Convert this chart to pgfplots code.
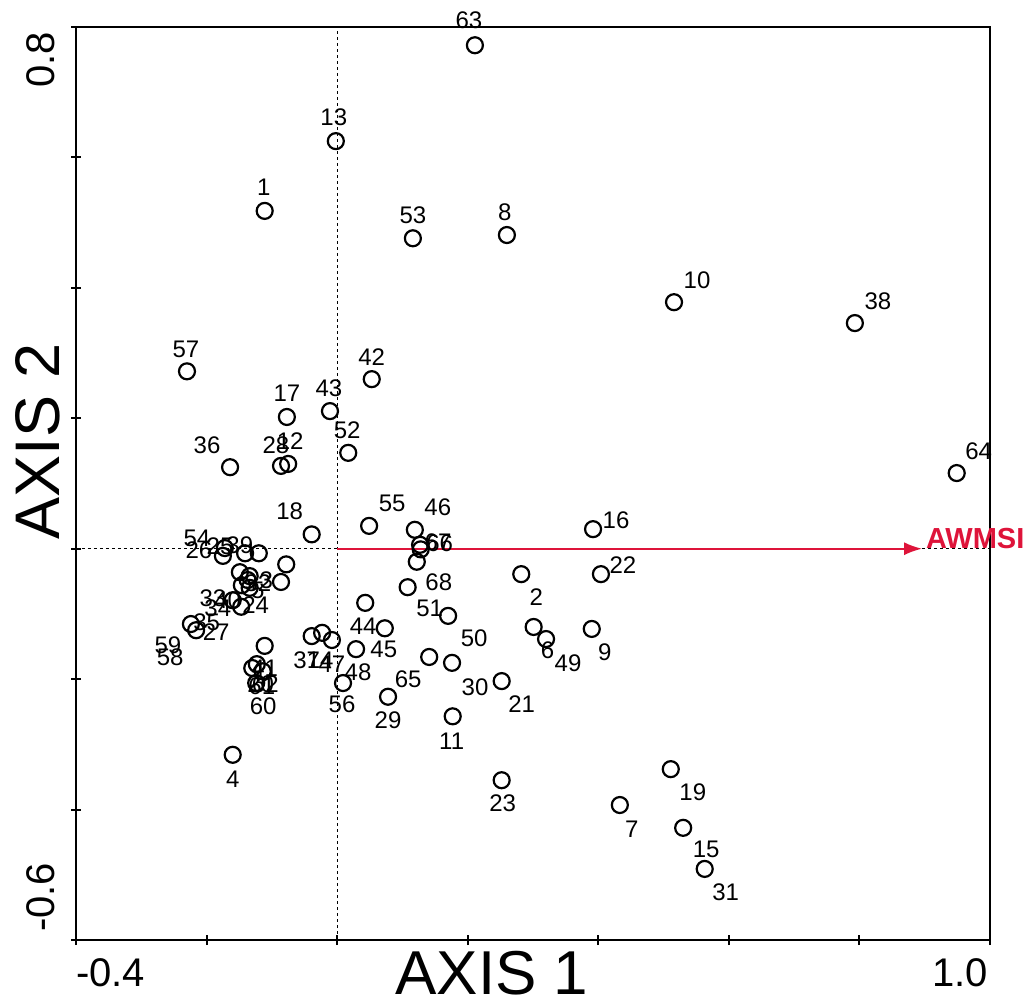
\documentclass[border=0pt]{standalone}
\usepackage{pgfplots}
\pgfplotsset{compat=1.18}
\usepackage{pgfplotstable}
\usetikzlibrary{arrows.meta}
\usepackage{fontspec}
\setmainfont{Liberation Sans}
\definecolor{arrowred}{RGB}{222,20,58}

\pgfplotstableread{
x y dx dy lbl
0.211 0.772 -6 25 63
-0.002 0.625 -2 24 13
-0.111 0.518 -1 24 1
0.116 0.476 0 23 53
0.260 0.481 -2 23 8
0.516 0.378 23 22 10
0.793 0.346 23 22 38
-0.230 0.272 -1 22 57
0.053 0.260 0 22 42
-0.077 0.202 0 24 17
-0.011 0.211 -1 23 43
0.017 0.147 -1 23 52
-0.075 0.130 2 23 12
-0.086 0.127 -5 21 28
-0.164 0.125 -23 22 36
0.949 0.116 22 22 64
-0.039 0.022 -22 23 18
0.049 0.035 23 23 55
0.119 0.029 23 23 46
0.127 0.006 18 3 67
0.128 -0.001 19 6 66
0.392 0.030 23 9 16
0.404 -0.039 22 9 22
0.282 -0.039 15 -23 2
0.122 -0.020 22 -20 68
0.108 -0.059 22 -21 51
0.170 -0.103 26 -22 50
0.043 -0.083 -2 -23 44
0.073 -0.122 -1 -21 45
0.029 -0.154 2 -23 48
0.141 -0.166 -21 -22 65
0.176 -0.175 23 -24 30
0.009 -0.206 -1 -21 56
0.078 -0.227 0 -23 29
0.177 -0.257 -1 -25 11
0.252 -0.203 20 -23 21
0.301 -0.120 14 -23 6
0.320 -0.1385 22 -24 49
0.390 -0.123 13 -23 9
0.252 -0.355 1 -23 23
0.433 -0.393 12 -24 7
0.511 -0.338 22 -23 19
0.530 -0.428 23 -22 15
0.563 -0.491 21 -23 31
-0.160 -0.316 0 -24 4
-0.039 -0.134 -5 -24 37
-0.023 -0.129 -2 -27 14
-0.008 -0.140 0 -24 47
-0.172 0.001 -28 10 54
-0.175 -0.011 -24 6 26
-0.141 -0.007 -25 7 25
-0.120 -0.007 -19 8 39
-0.078 -0.024 -20 -16 3
-0.149 -0.036 -27 -26 33
-0.134 -0.042 -22 -24 40
-0.086 -0.051 -23 -1 32
-0.146 -0.056 -24 -23 34
-0.134 -0.060 6 -17 24
-0.160 -0.079 -26 -22 35
-0.147 -0.089 -25 -25 27
-0.224 -0.1155 -23 -21 59
-0.216 -0.125 -26 -27 58
-0.111 -0.149 0 -22 41
-0.123 -0.177 5 -22 61
-0.130 -0.183 13 -16 62
-0.114 -0.188 -2 -13 20
-0.124 -0.206 7 -23 60
-0.137 -0.048 10 -10 5
}\pts

\begin{document}
\begin{tikzpicture}
\begin{axis}[
  at={(0,0)}, anchor=south west,
  scale only axis, width=914pt, height=913pt,
  xmin=-0.4, xmax=1.0, ymin=-0.6, ymax=0.8,
  xtick={-0.4,-0.2,0,0.2,0.4,0.6,0.8,1.0},
  ytick={-0.6,-0.4,-0.2,0,0.2,0.4,0.6,0.8},
  xticklabels={}, yticklabels={},
  tick pos=left, tick align=center,
  major tick length=10pt,
  tick style={line width=2pt, black},
  axis line style={line width=2.5pt, black},
  clip=false,
]
\addplot[black, line width=1.2pt, dash pattern=on 3pt off 3pt] coordinates {(0,-0.6) (0,0.8)};
\addplot[black, line width=1.2pt, dash pattern=on 3pt off 3pt] coordinates {(-0.4,0) (1.0,0)};
\addplot[arrowred, line width=2pt, -{Latex[length=18pt,width=13pt]}] coordinates {(0,0) (0.896,0)}
  node[pos=1, anchor=base west, inner sep=0pt, xshift=3pt, text=arrowred, font=\fontsize{29}{33}\selectfont\bfseries] {AWMSI};
\addplot[only marks, mark=o, mark size=8pt, mark options={line width=2.2pt, black},
  point meta=explicit symbolic,
  visualization depends on={\thisrow{dx} \as \dx},
  visualization depends on={\thisrow{dy} \as \dy},
  nodes near coords,
  every node near coord/.style={anchor=center, xshift=\dx pt, yshift=\dy pt, inner sep=0pt, text=black, font=\fontsize{24}{28}\selectfont}]
  table[x=x, y=y, meta=lbl] {\pts};

\node[anchor=north west, inner sep=0pt, font=\fontsize{40}{44}\selectfont] at ([yshift=-18pt]axis cs:-0.4,-0.6) {-0.4};
\node[anchor=north east, inner sep=0pt, font=\fontsize{40}{44}\selectfont] at ([xshift=-2pt,yshift=-18pt]axis cs:1.0,-0.6) {1.0};
\node[rotate=90, anchor=south east, inner sep=0pt, font=\fontsize{40}{44}\selectfont] at ([xshift=-21pt,yshift=-5pt]axis cs:-0.4,0.8) {0.8};
\node[rotate=90, anchor=south west, inner sep=0pt, font=\fontsize{40}{44}\selectfont] at ([xshift=-21pt,yshift=8pt]axis cs:-0.4,-0.6) {-0.6};
\node[anchor=north, inner sep=0pt, font=\fontsize{62}{68}\selectfont] at ([yshift=-11pt]axis cs:0.237,-0.6) {AXIS 1};
\node[rotate=90, anchor=north, inner sep=0pt, font=\fontsize{63}{70}\selectfont] at ([xshift=-61pt]axis cs:-0.4,0.165) {AXIS 2};
\end{axis}
\path (-76pt,-62pt) rectangle (951pt,940pt);
\end{tikzpicture}
\end{document}
